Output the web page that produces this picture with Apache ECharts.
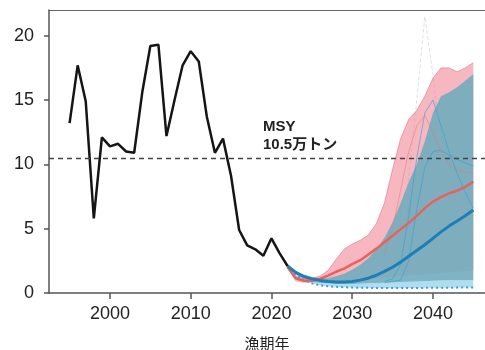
<!DOCTYPE html>
<html>
<head>
<meta charset="utf-8">
<script src="https://cdn.jsdelivr.net/npm/echarts@6/dist/echarts.min.js"></script>
<style>
  html, body { margin: 0; padding: 0; background: #fff; }
  #main { width: 485px; height: 350px; }
</style>
</head>
<body>
<div id="main"></div>
<script>
// observed catch (10k t)
var obsYears = [];
for (var y = 1995; y <= 2022; y++) obsYears.push(y);
var obsCatch = [13.2, 17.7, 14.9, 5.8, 12.1, 11.4, 11.6, 11.0, 10.9, 15.6, 19.2, 19.3, 12.2, 15.0,
  17.7, 18.8, 18.0, 13.7, 10.9, 12.0, 9.1, 4.9, 3.7, 3.4, 2.9, 4.25, 3.1, 2.1];

// projections 2022-2045
var projYears = [];
for (var y = 2022; y <= 2045; y++) projYears.push(y);
var redUp  = [2.0, 1.3, 1.1, 1.15, 1.3, 1.75, 2.6, 3.4, 3.8, 4.1, 4.5, 5.4, 7.0, 9.6, 12.0, 13.5, 14.2, 15.3, 16.7, 17.5, 17.5, 17.2, 17.5, 17.9];
var redLow = [2.0, 0.9, 0.8, 0.8, 0.8, 0.85, 0.9, 0.95, 1.0, 1.05, 1.1, 1.15, 1.2, 1.25, 1.3, 1.35, 1.4, 1.45, 1.5, 1.55, 1.6, 1.65, 1.7, 1.75];
var redMid = [2.0, 1.15, 0.95, 0.95, 1.1, 1.35, 1.65, 1.9, 2.25, 2.55, 3.0, 3.45, 3.95, 4.45, 4.95, 5.45, 6.0, 6.6, 7.1, 7.45, 7.75, 7.95, 8.25, 8.65];
var blueMid = [2.1, 1.6, 1.3, 1.1, 0.98, 0.9, 0.86, 0.86, 0.9, 1.0, 1.15, 1.38, 1.68, 2.0, 2.4, 2.85, 3.3, 3.75, 4.25, 4.75, 5.2, 5.6, 6.0, 6.45];
var tealUp  = [2.1, 1.7, 1.4, 1.25, 1.15, 1.15, 1.3, 1.5, 1.8, 2.2, 2.7, 3.4, 4.3, 5.5, 7.0, 8.6, 10.0, 11.8, 14.0, 15.3, 15.6, 16.0, 16.5, 17.0];
var tealLow = [2.1, 1.45, 1.1, 0.9, 0.8, 0.75, 0.7, 0.7, 0.7, 0.72, 0.75, 0.78, 0.8, 0.82, 0.85, 0.88, 0.9, 0.92, 0.95, 0.97, 1.0, 1.0, 1.0, 1.0];
var dotLow  = [2.1, 1.4, 1.0, 0.75, 0.6, 0.52, 0.48, 0.45, 0.42, 0.4, 0.4, 0.38, 0.38, 0.38, 0.38, 0.38, 0.38, 0.4, 0.4, 0.4, 0.4, 0.42, 0.42, 0.42];

// a few single runs, 2034-2045
var trajYears = [];
for (var y = 2034; y <= 2045; y++) trajYears.push(y);
var trajA = [0.9, 1.1, 2.2, 6.0, 10.5, 14.0, 15.0, 13.0, 11.0, 9.3, 7.8, 6.6];
var trajB = [0.8, 0.9, 1.0, 2.5, 6.5, 9.8, 11.0, 11.1, 10.7, 10.4, 10.1, 9.9];
var trajC = [1.5, 2.5, 4.5, 9.0, 15.0, 21.5, 17.0, 11.0, 8.0, 6.5, 5.5, 5.0];
var trajD = [3.0, 5.0, 8.0, 11.0, 13.0, 13.8, 12.5, 11.0, 10.0, 9.6, 9.4, 9.3];

var msy = 10.5;
var xTicks = [2000, 2010, 2020, 2030, 2040];
var yTicks = [0, 5, 10, 15, 20];

function pairs(xs, vs) {
  return xs.map(function (x, i) { return [x, vs[i]]; });
}

function band(low, up, color) {
  return {
    type: 'custom',
    silent: true,
    clip: true,
    data: projYears.map(function (x, i) { return [x, low[i], up[i]]; }),
    encode: { x: 0, y: [1, 2] },
    renderItem: function (params, api) {
      if (params.dataIndex !== 0) return;
      var pts = [];
      for (var i = 0; i < projYears.length; i++) pts.push(api.coord([projYears[i], up[i]]));
      for (var j = projYears.length - 1; j >= 0; j--) pts.push(api.coord([projYears[j], low[j]]));
      return { type: 'polygon', shape: { points: pts }, style: { fill: color } };
    }
  };
}

function thin(vals, color, type) {
  return {
    type: 'line', symbol: 'none', silent: true,
    data: pairs(trajYears, vals),
    lineStyle: { color: color, width: 1, type: type || 'solid' }
  };
}

var chart = echarts.init(document.getElementById('main'));
var font = '"Liberation Sans", Arial, "Noto Sans CJK JP", sans-serif';

chart.setOption({
  animation: false,
  backgroundColor: '#fff',
  grid: { left: 49, right: 0, top: 10, bottom: 57, outerBoundsMode: 'none', containLabel: false },
  xAxis: [{
    type: 'value', min: 1992.45, max: 2046.45,
    name: '漁期年', nameLocation: 'middle', nameGap: 43,
    nameTextStyle: { fontSize: 15, color: '#222', fontFamily: '"Noto Sans CJK JP", sans-serif' },
    axisLine: { lineStyle: { color: '#555', width: 1.5 } },
    axisTick: { customValues: xTicks, length: 6, lineStyle: { color: '#555', width: 1.5 } },
    axisLabel: {
      customValues: xTicks, margin: 12, fontSize: 18, color: '#222', fontFamily: font,
      formatter: function (v) { return String(v); }
    },
    splitLine: { show: false }
  }, {
    type: 'value', position: 'top', min: 1992.45, max: 2046.45,
    axisLine: { show: true, lineStyle: { color: '#666', width: 1.2 } },
    axisTick: { show: false }, axisLabel: { show: false }, splitLine: { show: false }
  }],
  yAxis: {
    type: 'value', min: 0, max: 22,
    axisLine: { show: true, lineStyle: { color: '#555', width: 1.5 } },
    axisTick: { show: true, customValues: yTicks, length: 5, lineStyle: { color: '#555', width: 1.5 } },
    axisLabel: { customValues: yTicks, margin: 15, fontSize: 18, color: '#222', fontFamily: font },
    splitLine: { show: false }
  },
  graphic: [{
    type: 'text', left: 263, top: 118, silent: true,
    style: { text: 'MSY\n10.5万トン', fill: '#222', font: 'bold 15px "Liberation Sans", "Noto Sans CJK JP", sans-serif', lineHeight: 18 }
  }],
  series: [
    band(redLow, redUp, 'rgba(246,170,182,0.85)'),
    {
      type: 'line', symbol: 'none', silent: true,
      data: pairs(projYears, redUp),
      lineStyle: { color: 'rgba(232,110,125,0.6)', width: 1 }
    },
    band(dotLow, tealLow, 'rgba(165,217,237,0.9)'),
    band(tealLow, tealUp, 'rgba(112,172,190,0.9)'),
    thin(trajA, 'rgba(50,160,205,0.6)'),
    thin(trajB, 'rgba(50,160,205,0.6)'),
    thin(trajC, 'rgba(170,170,170,0.35)', 'dashed'),
    thin(trajD, 'rgba(225,120,110,0.5)'),
    {
      type: 'line', symbol: 'none', silent: true,
      data: pairs(projYears, dotLow),
      lineStyle: { color: '#3b9fd2', width: 2, type: [2, 3] }
    },
    {
      type: 'line', symbol: 'none', silent: true,
      data: pairs(projYears, redMid),
      lineStyle: { color: '#e6625c', width: 2.5 }
    },
    {
      type: 'line', symbol: 'none', silent: true,
      data: pairs(projYears, blueMid),
      lineStyle: { color: '#1c7fb6', width: 3 }
    },
    {
      type: 'line', symbol: 'none', silent: true,
      data: pairs(obsYears, obsCatch),
      lineStyle: { color: '#151515', width: 2.5 },
      markLine: {
        silent: true, symbol: 'none', label: { show: false },
        lineStyle: { color: '#444', width: 1.3, type: [5, 4] },
        data: [{ yAxis: msy }]
      }
    }
  ]
});
</script>
</body>
</html>
